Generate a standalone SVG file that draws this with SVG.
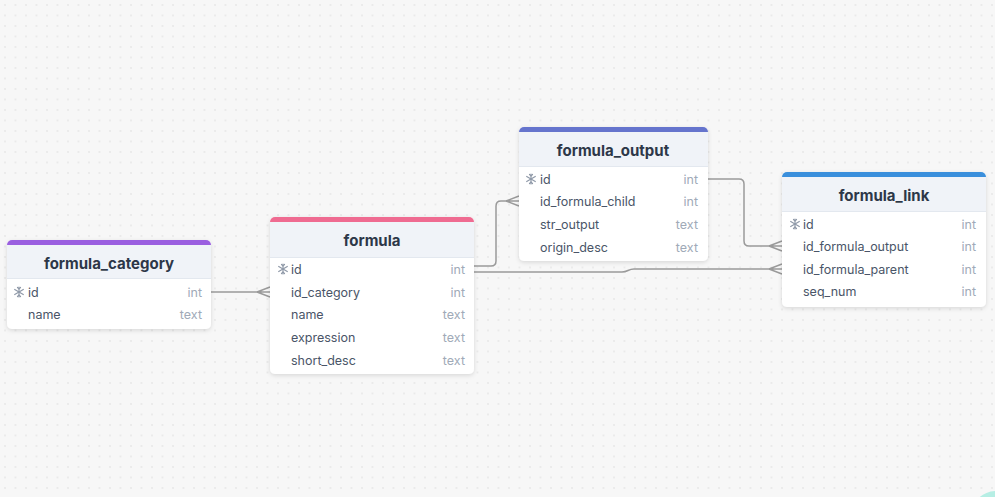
<svg xmlns="http://www.w3.org/2000/svg" width="995" height="497" viewBox="0 0 995 497">
<defs>
<pattern id="dots" x="4" y="4" width="10.5" height="10.5" patternUnits="userSpaceOnUse">
<circle cx="1" cy="1" r="0.75" fill="#d9d9d9"/>
</pattern>
<filter id="sh" x="-10%" y="-10%" width="120%" height="130%">
<feDropShadow dx="0" dy="1.5" stdDeviation="2" flood-color="#000" flood-opacity="0.13"/>
</filter>
<g id="key">
<g stroke="#8f99a8" stroke-width="1.2" stroke-linecap="round" fill="none">
<line x1="0" y1="-5" x2="0" y2="5"/>
<line x1="-4.3" y1="-2.5" x2="4.3" y2="2.5"/>
<line x1="-4.3" y1="2.5" x2="4.3" y2="-2.5"/>
<path d="M-1.5,-4.5 L0,-3 L1.5,-4.5 M-1.5,4.5 L0,3 L1.5,4.5"/>
</g>
</g>
</defs>
<style>
.box{fill:#ffffff;filter:url(#sh)}
.hdr{fill:#f0f3f8}
.div{stroke:#e3e8ef;stroke-width:1}
.title{font-family:Inter,"Liberation Sans",sans-serif;font-size:15px;font-weight:700;fill:#2d3748;text-anchor:middle}
.f{font-family:Inter,"Liberation Sans",sans-serif;font-size:12.5px;fill:#4a5568}
.t{font-family:Inter,"Liberation Sans",sans-serif;font-size:12.5px;fill:#a0aab8;text-anchor:end}
.ln{fill:none;stroke:#9a9a9a;stroke-width:1.5}
</style>
<rect width="995" height="497" fill="#f7f7f7"/>
<rect width="995" height="497" fill="url(#dots)"/>
<circle cx="996" cy="516" r="25" fill="#b6eee4"/>

<g id="connectors" class="ln">
<path d="M211,292 H270 M257,292 L270,287 M257,292 L270,297"/>
<path d="M474,266 H491 Q496,266 496,261 V206 Q496,201 501,201 H519 M506,201 L519,196 M506,201 L519,206"/>
<path d="M474,272 H622 C628,272 628,269 634,269 H782 M769,269 L782,264 M769,269 L782,274"/>
<path d="M708,179 H739 Q744,179 744,184 V241 Q744,246 749,246 H782 M769,246 L782,241 M769,246 L782,251"/>
</g>

<g id="formula_category">
<rect class="box" x="7" y="240" width="204" height="89" rx="5"/>
<path d="M7,245 A5,5 0 0 1 12,240 H206 A5,5 0 0 1 211,245 Z" fill="#9a5fe0"/>
<rect class="hdr" x="7" y="245" width="204" height="33"/>
<line class="div" x1="7" y1="278.5" x2="211" y2="278.5"/>
<text class="title" x="109" y="268.5">formula_category</text>
<use href="#key" x="19" y="292"/>
<text class="f" x="28" y="296.5">id</text><text class="t" x="202" y="296.5">int</text>
<text class="f" x="28" y="319">name</text><text class="t" x="202" y="319">text</text>
</g>

<g id="formula">
<rect class="box" x="270" y="217" width="204" height="157" rx="5"/>
<path d="M270,222 A5,5 0 0 1 275,217 H469 A5,5 0 0 1 474,222 Z" fill="#ef6b91"/>
<rect class="hdr" x="270" y="222" width="204" height="35"/>
<line class="div" x1="270" y1="257.5" x2="474" y2="257.5"/>
<text class="title" x="372" y="246">formula</text>
<use href="#key" x="283" y="269"/>
<text class="f" x="291" y="273.5">id</text><text class="t" x="465" y="273.5">int</text>
<text class="f" x="291" y="296.5">id_category</text><text class="t" x="465" y="296.5">int</text>
<text class="f" x="291" y="319">name</text><text class="t" x="465" y="319">text</text>
<text class="f" x="291" y="341.5">expression</text><text class="t" x="465" y="341.5">text</text>
<text class="f" x="291" y="364.5">short_desc</text><text class="t" x="465" y="364.5">text</text>
</g>

<g id="formula_output">
<rect class="box" x="519" y="127" width="189" height="134" rx="5"/>
<path d="M519,132 A5,5 0 0 1 524,127 H703 A5,5 0 0 1 708,132 Z" fill="#6574cd"/>
<rect class="hdr" x="519" y="132" width="189" height="34"/>
<line class="div" x1="519" y1="166.5" x2="708" y2="166.5"/>
<text class="title" x="613" y="155.5">formula_output</text>
<use href="#key" x="531" y="179"/>
<text class="f" x="540" y="183.5">id</text><text class="t" x="698" y="183.5">int</text>
<text class="f" x="540" y="206">id_formula_child</text><text class="t" x="698" y="206">int</text>
<text class="f" x="540" y="228.5">str_output</text><text class="t" x="698" y="228.5">text</text>
<text class="f" x="540" y="251.5">origin_desc</text><text class="t" x="698" y="251.5">text</text>
</g>

<g id="formula_link">
<rect class="box" x="782" y="172" width="204" height="135" rx="5"/>
<path d="M782,177 A5,5 0 0 1 787,172 H981 A5,5 0 0 1 986,177 Z" fill="#3a8fdc"/>
<rect class="hdr" x="782" y="177" width="204" height="34"/>
<line class="div" x1="782" y1="211.5" x2="986" y2="211.5"/>
<text class="title" x="884" y="200.5">formula_link</text>
<use href="#key" x="795" y="224"/>
<text class="f" x="803" y="228.5">id</text><text class="t" x="976" y="228.5">int</text>
<text class="f" x="803" y="251">id_formula_output</text><text class="t" x="976" y="251">int</text>
<text class="f" x="803" y="273.5">id_formula_parent</text><text class="t" x="976" y="273.5">int</text>
<text class="f" x="803" y="296">seq_num</text><text class="t" x="976" y="296">int</text>
</g>
</svg>
